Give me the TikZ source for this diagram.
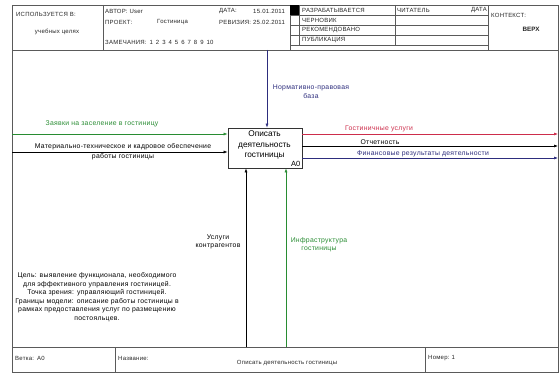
\documentclass[tikz,border=0pt]{standalone}
\usepackage{fontspec}
\setmainfont{Liberation Sans}
\newfontfamily\spacedfont[LetterSpace=4.0]{Liberation Sans}
\usetikzlibrary{arrows.meta}
\definecolor{grn}{RGB}{40,140,50}
\definecolor{rd}{RGB}{205,45,75}
\definecolor{nav}{RGB}{45,45,125}
\definecolor{frm}{RGB}{90,90,90}
\tikzset{
  frameline/.style={draw=frm, line width=0.7pt},
  thinline/.style={draw=frm, line width=0.5pt},
  hdr/.style={inner sep=0pt, font=\spacedfont\fontsize{6}{7}\selectfont, text=black!85},
  lbl/.style={inner sep=0pt, align=center, font=\spacedfont\fontsize{6.85}{8.5}\selectfont},
  arr/.style={line width=0.6pt, -{Latex[length=4pt,width=3pt]}},
  boxtext/.style={inner sep=0pt, align=center, font=\fontsize{8.3}{10.8}\selectfont}
}
\begin{document}
\begin{tikzpicture}[x=1pt,y=-1pt]
\useasboundingbox (0,0) rectangle (560,374);
\fill[white] (0,0) rectangle (560,374);

% frame
\draw[frameline] (12,5) rectangle (558,372);
\draw[frameline] (12,50) -- (558,50);
\draw[frameline] (12,347) -- (558,347);

% header grid
\draw[thinline] (103,5) -- (103,50);
\draw[thinline] (290,5) -- (290,50);
\draw[thinline] (299,5) -- (299,45);
\draw[thinline] (395,5) -- (395,45);
\draw[thinline] (488,5) -- (488,50);
\draw[thinline] (290,15) -- (488,15);
\draw[thinline] (290,25) -- (488,25);
\draw[thinline] (290,35) -- (488,35);
\draw[thinline] (290,45) -- (488,45);
\fill[black] (290,5) rectangle (299,15);

% footer grid
\draw[thinline] (115,347) -- (115,372);
\draw[thinline] (425,347) -- (425,372);

% header texts
\node[hdr, anchor=west] (usedin) at (16,14) {ИСПОЛЬЗУЕТСЯ В:};
\node[hdr] (usedfor) at (57,32) {учебных целях};
\node[hdr, anchor=west] (author) at (105,11) {АВТОР:\hspace{2pt}User};
\node[hdr, anchor=west] (project) at (105,22) {ПРОЕКТ:};
\node[hdr, anchor=west] (projname) at (157,22) {Гостиница};
\node[hdr, anchor=west] (notes) at (105,42) {ЗАМЕЧАНИЯ:\hspace{3pt}1\hspace{3pt}2\hspace{3pt}3\hspace{3pt}4\hspace{3pt}5\hspace{3pt}6\hspace{3pt}7\hspace{3pt}8\hspace{3pt}9\hspace{3pt}10};
\node[hdr, anchor=west] (date) at (219,11) {ДАТА:};
\node[hdr, anchor=west] (dateval) at (253,11) {15.01.2011};
\node[hdr, anchor=west] (rev) at (219,22) {РЕВИЗИЯ:\hspace{2pt}25.02.2011};
\node[hdr, anchor=west] (st1) at (302,10.5) {РАЗРАБАТЫВАЕТСЯ};
\node[hdr, anchor=west] (st2) at (302,20.5) {ЧЕРНОВИК};
\node[hdr, anchor=west] (st3) at (302,30.5) {РЕКОМЕНДОВАНО};
\node[hdr, anchor=west] (st4) at (302,40.5) {ПУБЛИКАЦИЯ};
\node[hdr, anchor=west] (reader) at (397,10.5) {ЧИТАТЕЛЬ};
\node[hdr, anchor=east] (rdate) at (487,10.5) {ДАТА};
\node[hdr, anchor=west] (context) at (491,15) {КОНТЕКСТ:};
\node[hdr, font=\fontsize{6.3}{7}\selectfont\bfseries] (top) at (531,29) {ВЕРХ};

% footer texts
\node[hdr, anchor=west] (node) at (15,358) {Ветка:\hspace{3pt}A0};
\node[hdr, anchor=west] (title) at (118,358) {Название:};
\node[hdr] (titleval) at (287,363) {Описать деятельность гостиницы};
\node[hdr, anchor=west] (number) at (428,358) {Номер:\hspace{2pt}1};

% activity box
\node[draw=black!80, line width=0.8pt, minimum width=74pt, minimum height=40pt, inner sep=0pt] (A0) at (265,148) {};
\node[boxtext] (A0text) at (264.5,145) {Описать\\деятельность\\гостиницы};
\node[inner sep=0pt, font=\fontsize{7.5}{8}\selectfont, anchor=south east] (A0num) at ([xshift=-2pt,yshift=2pt]A0.south east) {A0};

% connector end points
\coordinate (c1) at (267,50);
\coordinate (i1) at (12,134);
\coordinate (i2) at (12,152);
\coordinate (o1) at (558,134);
\coordinate (o2) at (558,146);
\coordinate (o3) at (558,158);
\coordinate (m1) at (246,347);
\coordinate (m2) at (286,347);

% connectors
\draw[arr, nav] (c1) -- (c1 |- A0.north);
\draw[arr, grn] (i1) -- (i1 -| A0.west);
\draw[arr, black] (i2) -- (i2 -| A0.west);
\draw[arr, rd] (o1 -| A0.east) -- (o1);
\draw[arr, black] (o2 -| A0.east) -- (o2);
\draw[arr, nav] (o3 -| A0.east) -- (o3);
\draw[arr, black] (m1) -- (m1 |- A0.south);
\draw[arr, grn] (m2) -- (m2 |- A0.south);

% connector labels
\node[lbl, text=nav] (lc1) at (311,91.5) {Нормативно-правовая\\база};
\node[lbl, text=grn] (li1) at (102,124) {Заявки на заселение в гостиницу};
\node[lbl, fill=white, inner sep=0.5pt] (li2a) at (123,147) {Материально-техническое и кадровое обеспечение};
\node[lbl] (li2b) at (123,157) {работы гостиницы};
\node[lbl, text=rd] (lo1) at (379,129) {Гостиничные услуги};
\node[lbl, text=black] (lo2) at (380,142) {Отчетность};
\node[lbl, text=nav] (lo3) at (423,154) {Финансовые результаты деятельности};
\node[lbl] (lm1) at (218,242) {Услуги\\контрагентов};
\node[lbl, text=grn] (lm2) at (319,244.5) {Инфраструктура\\гостиницы};

% purpose text
\node[lbl] (purpose) at (97,297) {Цель: выявление функционала, необходимого\\для эффективного управления гостиницей.\\Точка зрения: управляющий гостиницей.\\Границы модели: описание работы гостиницы в\\рамках предоставления услуг по размещению\\постояльцев.};
\end{tikzpicture}
\end{document}
